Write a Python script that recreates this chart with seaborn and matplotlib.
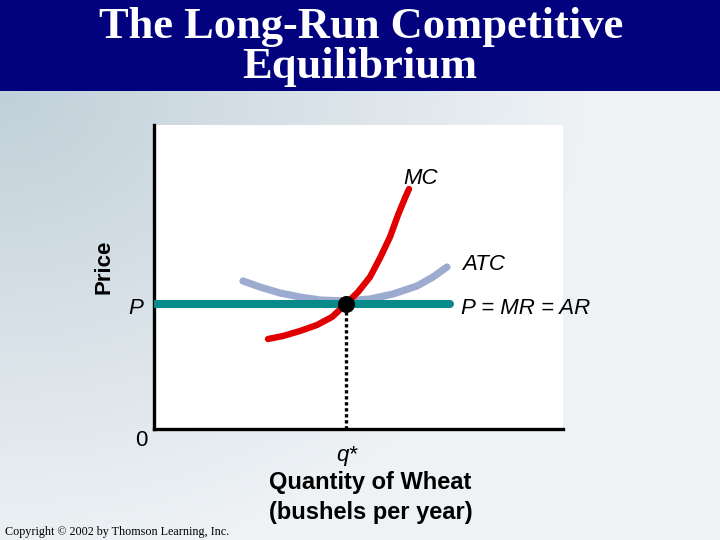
import numpy as np
import seaborn as sns
import matplotlib.pyplot as plt
from matplotlib.patches import Rectangle

# curve values (arbitrary quantity / price units)
mc_q = [114, 129, 146, 163, 178, 192, 204, 216, 226, 236, 244, 251, 255]
mc_p = [90, 93, 98, 104, 112, 125, 137, 152, 171, 192, 214, 231, 240]
atc_q = [89, 106, 126, 146, 166, 192, 216, 239, 263, 279, 293]
atc_p = [148, 142, 136, 132, 129, 128, 130, 135, 143, 152, 162]
mr_q = [0, 296]
mr_p = [125, 125]
q_star = 192
p_star = 125

title_lines = ["The Long-Run Competitive", "Equilibrium"]
W, H = 720, 540

sns.set_style("white")
plt.rcParams['font.family'] = ['Liberation Sans', 'DejaVu Sans']
plt.rcParams['text.color'] = 'black'
plt.rcParams['lines.solid_joinstyle'] = 'round'

fig = plt.figure(figsize=(7.2, 5.4), dpi=100)

def fx(px):
    return px / W

def fy(py):
    return 1 - py / H

# slide background gradient, darker in the top-left corner
bg = fig.add_axes([0, 0, 1, 1], zorder=-5)
yy, xx = np.mgrid[0:H, 0:W]
t = np.clip(np.sqrt((xx / 580.0) ** 2 + ((yy - 91) / 470.0) ** 2), 0, 1)
c0 = np.array([0xC1, 0xD0, 0xD9]) / 255
c1 = np.array([0xEE, 0xF2, 0xF5]) / 255
img = c0[None, None, :] * (1 - t[..., None]) + c1[None, None, :] * t[..., None]
bg.imshow(img, extent=[0, W, H, 0], aspect='auto')
bg.set_xlim(0, W)
bg.set_ylim(H, 0)
bg.axis('off')

# title band
fig.patches.append(Rectangle((0, fy(91)), 1, 91 / H, transform=fig.transFigure,
                             facecolor='#02027E', edgecolor='none', zorder=-1))
fig.text(fx(361), fy(38), title_lines[0], ha='center', va='baseline', color='white',
         fontsize=32, fontweight='bold', family='Liberation Serif')
fig.text(fx(360), fy(78), title_lines[1], ha='center', va='baseline', color='white',
         fontsize=32, fontweight='bold', family='Liberation Serif')

ax = fig.add_axes([fx(154), fy(429), fx(563 - 154), (429 - 125) / H])
ax.set_facecolor('white')
ax.set_xlim(0, 409)
ax.set_ylim(0, 304)

sns.lineplot(x=atc_q, y=atc_p, ax=ax, color='#9DABD0', linewidth=5.2, sort=False, zorder=2)
sns.lineplot(x=mr_q, y=mr_p, ax=ax, color='#088A8A', linewidth=5.8, sort=False, zorder=3)
sns.lineplot(x=mc_q, y=mc_p, ax=ax, color='#E00000', linewidth=4.6, sort=False, zorder=4)
ax.plot([q_star, q_star], [0, p_star], color='black', linewidth=2.4,
        dashes=(1, 0.8), dash_capstyle='butt', zorder=3)
sns.scatterplot(x=[q_star], y=[p_star], ax=ax, color='black', s=150, zorder=5,
                edgecolor='black', linewidth=0)

for s in ['top', 'right']:
    ax.spines[s].set_visible(False)
for s in ['left', 'bottom']:
    ax.spines[s].set_linewidth(2.4)
    ax.spines[s].set_color('black')
ax.set_xticks([])
ax.set_yticks([])
ax.set_xlabel('')
ax.set_ylabel('')

# labels
fig.text(fx(421), fy(178), 'MC', ha='center', va='center', fontsize=16, style='italic')
fig.text(fx(462), fy(265), 'ATC', ha='left', va='center', fontsize=16, style='italic')
fig.text(fx(461), fy(309), 'P = MR = AR', ha='left', va='center', fontsize=16, style='italic')
fig.text(fx(136), fy(309), 'P', ha='center', va='center', fontsize=16, style='italic')
fig.text(fx(104), fy(267), 'Price', ha='center', va='center', fontsize=16,
         fontweight='bold', rotation=90)
fig.text(fx(141), fy(440), '0', ha='center', va='center', fontsize=16)
fig.text(fx(347), fy(455), 'q*', ha='center', va='center', fontsize=16, style='italic')
fig.text(fx(370), fy(482), 'Quantity of Wheat', ha='center', va='center',
         fontsize=17, fontweight='bold')
fig.text(fx(371), fy(512), '(bushels per year)', ha='center', va='center',
         fontsize=17, fontweight='bold')
fig.text(fx(5), fy(532), 'Copyright \u00a9 2002 by Thomson Learning, Inc.', ha='left',
         va='center', fontsize=8.7, family='Liberation Serif')

fig.savefig('out.png', dpi=100)
